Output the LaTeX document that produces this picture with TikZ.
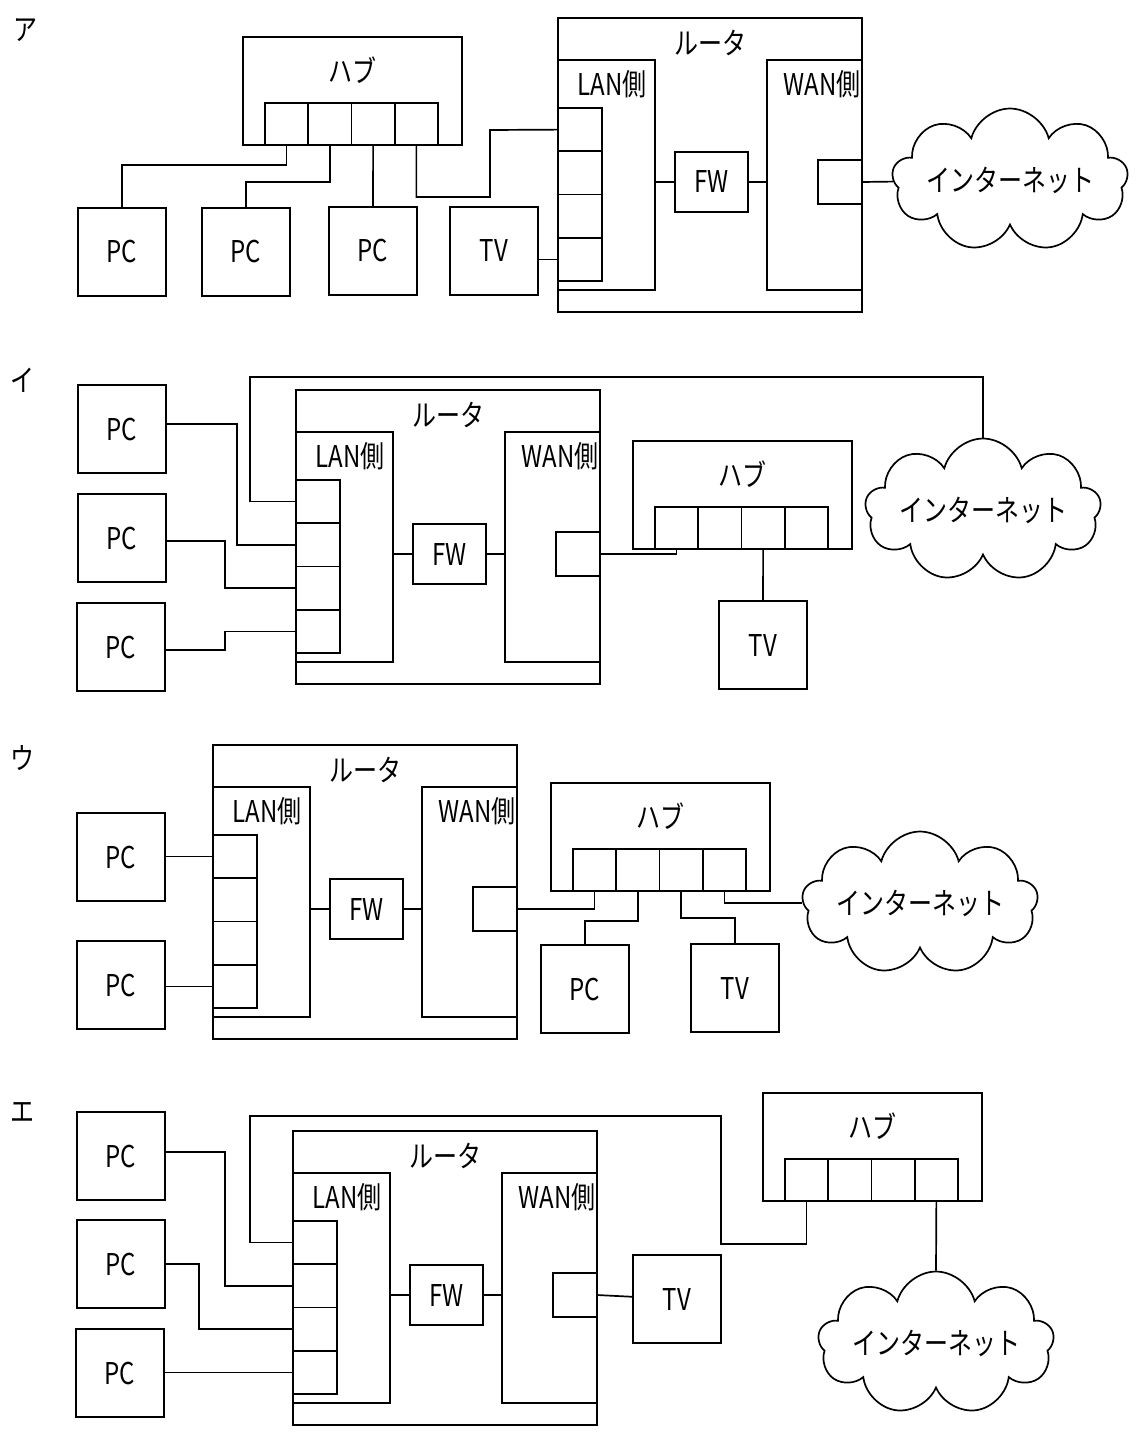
\documentclass[tikz,border=0pt]{standalone}
\usepackage{fontspec}
\setmainfont[FakeStretch=0.8]{Noto Sans CJK JP}
\usetikzlibrary{shapes.symbols}
\tikzset{
  dev/.style={draw, minimum width=88, minimum height=88, inner sep=0},
  fwbox/.style={draw, minimum width=73, minimum height=60, inner sep=0},
  net/.style={draw, cloud, cloud puffs=9, aspect=1.7, minimum width=236, minimum height=140, inner xsep=-22pt, inner ysep=-6pt},
  lbl/.style={inner sep=0},
}
% router: name, x, y (top left corner)
\newcommand\router[3]{%
  \begin{scope}[shift={(#2,#3)}]
    \draw (0,0) rectangle (304,294);
    \draw (0,42) -| (97,272) -- (0,272);
    \draw (304,42) -| (209,272) -- (304,272);
    \foreach \i in {1,...,4}{
      \draw (0,{90+43.25*(\i-1)}) rectangle (44,{90+43.25*\i});
      \coordinate (#1-p\i) at (0,{90+43.25*(\i-0.5)});
    }
    \node[fwbox] (#1-fw) at (153.5,164) {FW};
    \draw (260,142) rectangle (304,186);
    \coordinate (#1-wan) at (304,164);
    \draw (97,164) -- (#1-fw) -- (209,164);
    \node[lbl] (#1-name) at (152,25) {ルータ};
    \node[lbl] (#1-lan) at (54,66) {LAN側};
    \node[lbl] (#1-wside) at (264,66) {WAN側};
  \end{scope}}
% hub: name, x, y (top left corner)
\newcommand\hub[3]{%
  \begin{scope}[shift={(#2,#3)}]
    \draw (0,0) rectangle (219,108);
    \foreach \i in {1,...,4}{
      \draw ({22+43.25*(\i-1)},66) rectangle ({22+43.25*\i},108);
      \coordinate (#1-\i) at ({22+43.25*(\i-0.5)},108);
    }
    \node[lbl] (#1-name) at (109,33) {ハブ};
  \end{scope}}
\begin{document}
\begin{tikzpicture}[x=1pt,y=-1pt,line width=1.7pt,font=\fontsize{30}{34}\selectfont]
  \useasboundingbox (0,0) rectangle (1141,1437);
%
  % ア
  \node[lbl] (la) at (25,30) {ア};
  \router{ra}{558}{18}
  \hub{ha}{243}{37}
  \node[dev] (pa1) at (122,252) {PC};
  \node[dev] (pa2) at (246,252) {PC};
  \node[dev] (pa3) at (373,251) {PC};
  \node[dev] (tva) at (494,251) {TV};
  \node[net] (ia) at (1010,180) {インターネット};
  \draw (ha-1) -- ++(0,20) -| (pa1);
  \draw (ha-2) -- ++(0,37) -| (pa2);
  \draw (ha-3) -- (pa3);
  \draw (ha-4) -- ++(0,52) -| (490,130) -- (ra-p1);
  \draw (tva.east |- ra-p4) -- (ra-p4);
  \draw (ra-wan) -- (ia);
%
  % イ
  \node[lbl] (lb) at (22,380) {イ};
  \router{rb}{296}{390}
  \hub{hb}{633}{441}
  \node[dev] (pb1) at (122,429) {PC};
  \node[dev] (pb2) at (122,538) {PC};
  \node[dev] (pb3) at (121,647) {PC};
  \node[dev] (tvb) at (763,645) {TV};
  \node[net] (ib) at (983,510) {インターネット};
  \draw (pb1.east |- 0,424) -| (237,0 |- rb-p2) -- (rb-p2);
  \draw (pb2.east |- 0,541) -| (225,0 |- rb-p3) -- (rb-p3);
  \draw (pb3.east |- 0,650) -| (225,0 |- rb-p4) -- (rb-p4);
  \draw (rb-p1) -| (250,377) -| (ib.north);
  \draw (rb-wan) -| (hb-1);
  \draw (hb-3) -- (tvb);
%
  % ウ
  \node[lbl] (lc) at (22,758) {ウ};
  \router{rc}{213}{745}
  \hub{hc}{551}{783}
  \node[dev] (pc1) at (121,857) {PC};
  \node[dev] (pc2) at (121,985) {PC};
  \node[dev] (pc3) at (585,989) {PC};
  \node[dev] (tvc) at (735,988) {TV};
  \node[net] (ic) at (920,903) {インターネット};
  \draw (pc1.east |- rc-p1) -- (rc-p1);
  \draw (pc2.east |- rc-p4) -- (rc-p4);
  \draw (rc-wan) -| (hc-1);
  \draw (hc-2) -- ++(0,30) -| (pc3);
  \draw (hc-3) -- ++(0,27) -| (tvc);
  \draw (hc-4) -- ++(0,12) -- (ic.west |- 0,903);
%
  % エ
  \node[lbl] (ld) at (22,1112) {エ};
  \router{rd}{293}{1131}
  \hub{hd}{763}{1093}
  \node[dev] (pd1) at (121,1156) {PC};
  \node[dev] (pd2) at (121,1264) {PC};
  \node[dev] (pd3) at (120,1373) {PC};
  \node[dev] (tvd) at (677,1299) {TV};
  \node[net] (id) at (936,1343) {インターネット};
  \draw (pd1.east |- 0,1152) -| (225,0 |- rd-p2) -- (rd-p2);
  \draw (pd2.east |- 0,1264) -| (199,0 |- rd-p3) -- (rd-p3);
  \draw (pd3.east |- rd-p4) -- (rd-p4);
  \draw (rd-p1) -| (250,1116) -| (721,1244) -| (hd-1);
  \draw (hd-4) -- (id.north);
  \draw (rd-wan) -- (tvd);
\end{tikzpicture}
\end{document}
